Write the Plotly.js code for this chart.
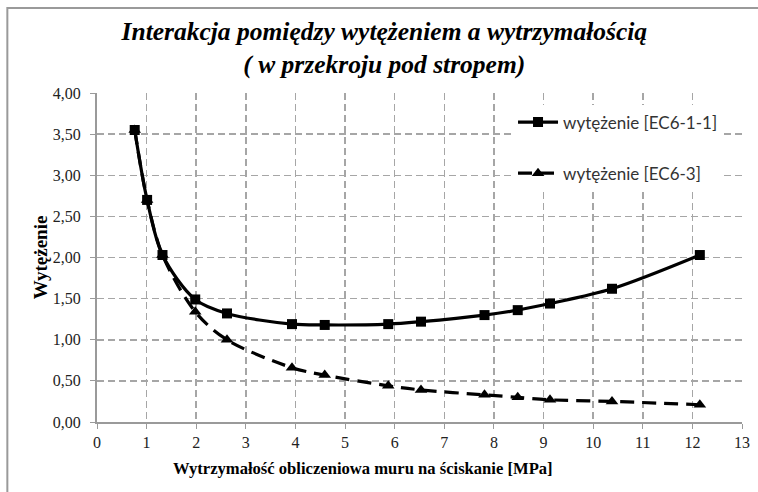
<!DOCTYPE html>
<html>
<head>
<meta charset="utf-8">
<script src="https://cdn.plot.ly/plotly-3.0.1.min.js"></script>
<style>html,body{margin:0;padding:0;background:#fff;}#chart{width:758px;height:492px;}</style>
</head>
<body>
<div id="chart"></div>
<script>
const strength = [0.76, 1.01, 1.32, 1.98, 2.62, 3.93, 4.59, 5.87, 6.53, 7.81, 8.48, 9.13, 10.38, 12.15];
const effortEC611 = [3.55, 2.70, 2.03, 1.49, 1.32, 1.19, 1.18, 1.19, 1.22, 1.30, 1.36, 1.44, 1.62, 2.03];
const effortEC63 = [3.55, 2.70, 2.03, 1.34, 1.00, 0.66, 0.57, 0.44, 0.39, 0.33, 0.30, 0.27, 0.25, 0.21];
const seriesNames = ['wytężenie [EC6-1-1]', 'wytężenie [EC6-3]'];
const xTicks = [0,1,2,3,4,5,6,7,8,9,10,11,12,13];
const yTicks = [0,0.5,1,1.5,2,2.5,3,3.5,4];
const xTitle = 'Wytrzymałość obliczeniowa muru na ściskanie [MPa]';
const yTitle = 'Wytężenie';

const SERIF = 'Liberation Serif';
const tickFont = {family: SERIF, size: 16, color: '#222'};
const data = [
  {
    x: strength, y: effortEC63, name: seriesNames[1], legendgroup: 'b', legendrank: 2,
    mode: 'lines+markers', type: 'scatter',
    line: {color: '#000', width: 3.2, dash: '14px,8px', shape: 'spline', smoothing: 0.9},
    marker: {symbol: 'triangle-up', size: 11, color: '#000'}
  },
  {
    x: strength, y: effortEC611, name: seriesNames[0], legendgroup: 'a', legendrank: 1,
    mode: 'lines+markers', type: 'scatter',
    line: {color: '#000', width: 3.2, shape: 'spline', smoothing: 0.9},
    marker: {symbol: 'square', size: 10, color: '#000'}
  }
];
const layout = {
  width: 758, height: 492,
  margin: {l: 97, r: 16, t: 93, b: 70},
  paper_bgcolor: '#fff', plot_bgcolor: '#fff',
  separators: ',.',
  font: {family: SERIF},
  title: {
    text: '<b><i>Interakcja pomiędzy wytężeniem a wytrzymałością<br>( w przekroju pod stropem)</i></b>',
    font: {family: SERIF, size: 25.5, color: '#000'},
    x: 0.507, xanchor: 'center', y: 0.918, yref: 'container', yanchor: 'middle'
  },
  xaxis: {
    range: [0, 13], tickvals: xTicks, ticktext: xTicks.map(String),
    showgrid: true, gridcolor: '#a6a6a6', gridwidth: 1.5, griddash: '7px,4px',
    showline: true, linecolor: '#9a9a9a', linewidth: 2, zeroline: false,
    ticks: 'outside', ticklen: 5, tickcolor: '#9a9a9a', tickfont: tickFont
  },
  yaxis: {
    range: [0, 4], tickvals: yTicks, tickformat: '.2f',
    showgrid: true, gridcolor: '#a6a6a6', gridwidth: 1.5, griddash: '7px,4px',
    showline: true, linecolor: '#9a9a9a', linewidth: 2, zeroline: false,
    ticks: 'outside', ticklen: 5, tickcolor: '#9a9a9a', tickfont: tickFont, ticklabelstandoff: 6,
    title: {text: '<b>' + yTitle + '</b>', font: {family: SERIF, size: 19, color: '#000'}, standoff: 0}
  },
  annotations: [
    {xref: 'paper', yref: 'paper', x: 0.412, y: -0.14, xanchor: 'center', yanchor: 'middle', showarrow: false,
     text: '<b>' + xTitle + '</b>', font: {family: SERIF, size: 16.6, color: '#000'}}
  ],
  showlegend: true,
  legend: {
    x: 0.645, xanchor: 'left', y: 0.965, yanchor: 'top',
    bgcolor: '#fff', borderwidth: 0, tracegroupgap: 26, traceorder: 'grouped',
    font: {family: 'Lato', size: 17, color: '#333'},
    itemwidth: 40
  },
  shapes: [
    {type: 'rect', xref: 'paper', yref: 'paper', x0: -0.139, x1: 1.3, y0: -0.5, y1: 1.258, line: {color: '#9a9a9a', width: 2}, fillcolor: 'rgba(0,0,0,0)', layer: 'below'}
  ]
};
Plotly.newPlot('chart', data, layout, {displayModeBar: false, staticPlot: true});
</script>
</body>
</html>
